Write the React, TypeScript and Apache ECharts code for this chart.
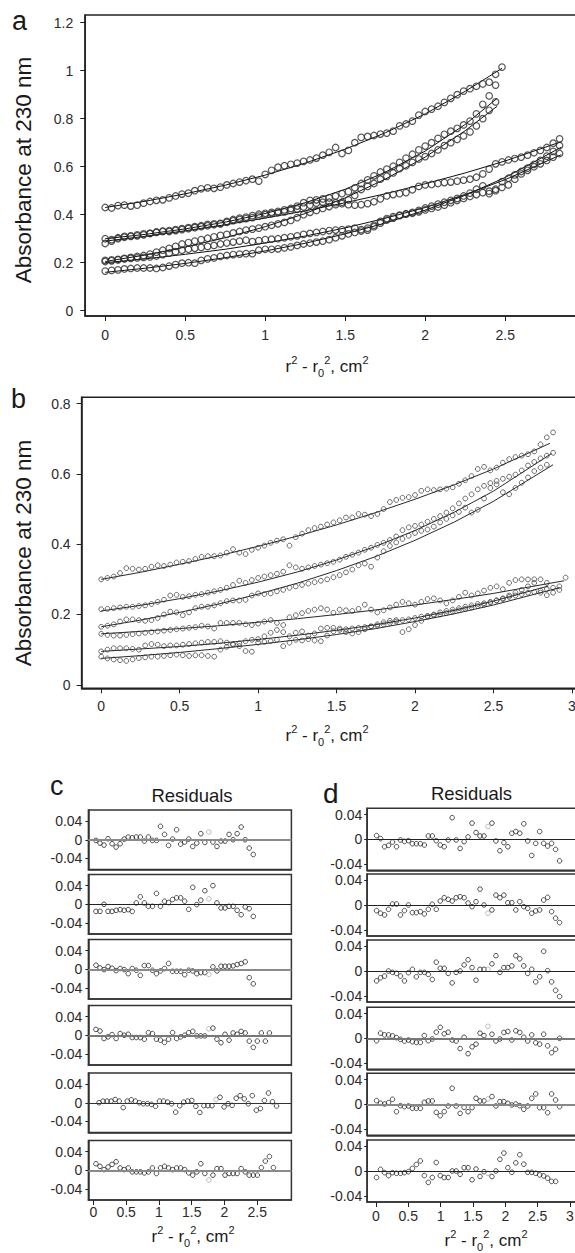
import React, { useEffect, useRef } from "react";
import * as echarts from "echarts";

const FONT = '"Liberation Sans", Arial, Helvetica, sans-serif';

// ---------- Panel a : absorbance (x1000), sampled every 0.04 cm² from 0 ----------
const A_STEP = 0.04;
const a1 = [430,428,438,440,436,440,448,455,460,462,470,478,486,490,500,508,512,510,515,524,530,536,542,548,540,568,585,598,604,610,615,622,628,636,648,660,680,655,668,700,722,726,730,736,740,748,770,778,790,815,830,840,852,868,885,900,915,925,935,945,952,985,1015];
const a2 = [300,296,304,310,312,316,320,322,328,332,334,338,342,346,350,354,360,362,364,372,380,386,390,396,402,406,410,414,420,426,436,450,460,462,466,470,478,488,496,512,530,545,562,578,590,602,618,636,652,670,686,700,718,735,748,760,774,790,820,860,895,940];
const a3 = [210,212,214,218,222,226,230,236,244,252,260,268,278,284,290,296,302,308,314,318,324,330,336,340,344,350,356,362,368,376,388,400,410,418,426,434,442,452,462,480,505,518,530,548,560,574,592,604,618,632,642,655,670,688,700,714,728,745,770,800,835,870];
const a4 = [280,290,300,306,310,312,316,322,326,330,330,334,338,342,346,350,354,358,362,368,375,380,384,388,394,400,404,408,412,418,424,432,440,448,452,452,450,446,442,440,442,446,454,466,478,484,488,492,504,518,524,526,530,534,536,540,544,548,556,570,590,612,620,628,634,640,648,658,668,680,698,716];
const a5 = [205,208,212,216,218,220,222,224,228,234,240,246,252,256,260,264,268,272,278,282,286,290,294,288,292,296,298,300,304,308,312,318,322,326,330,334,336,338,340,344,338,336,350,365,378,386,396,402,406,412,420,426,432,440,450,460,468,476,484,492,498,506,514,524,548,570,585,600,612,626,640,655];
const a6 = [165,168,170,174,176,178,178,178,176,180,186,192,198,200,198,210,216,220,226,230,234,236,238,238,252,256,256,258,262,266,272,278,282,286,290,296,304,312,320,326,332,344,356,372,384,392,398,404,410,418,428,436,444,452,460,468,478,490,506,520,488,500,538,552,566,580,594,610,626,644,664,688];
// fitted curves (x, absorbance)
const aFit1 = [[0,0.43],[0.25,0.456],[0.5,0.487],[0.75,0.523],[1,0.565],[1.25,0.615],[1.5,0.673],[1.75,0.741],[2,0.82],[2.25,0.914],[2.48,1.01]];
const aFit2 = [[0,0.3],[0.25,0.318],[0.5,0.341],[0.75,0.369],[1,0.405],[1.25,0.45],[1.5,0.506],[1.75,0.577],[2,0.665],[2.25,0.776],[2.45,0.885]];
const aFit3 = [[0,0.205],[0.25,0.232],[0.5,0.265],[0.75,0.304],[1,0.35],[1.25,0.405],[1.5,0.47],[1.75,0.548],[2,0.64],[2.25,0.75],[2.45,0.852]];
const aFit4 = [[0,0.29],[0.25,0.31],[0.5,0.333],[0.75,0.358],[1,0.386],[1.25,0.416],[1.5,0.45],[1.75,0.487],[2,0.529],[2.25,0.574],[2.5,0.624],[2.85,0.704]];
const aFit5 = [[0,0.2],[0.25,0.216],[0.5,0.235],[0.75,0.256],[1,0.282],[1.25,0.311],[1.5,0.345],[1.75,0.385],[2,0.43],[2.25,0.484],[2.5,0.546],[2.85,0.65]];
const aFit6 = [[0,0.16],[0.25,0.177],[0.5,0.197],[0.75,0.221],[1,0.249],[1.25,0.281],[1.5,0.32],[1.75,0.365],[2,0.419],[2.25,0.481],[2.5,0.555],[2.85,0.681]];

// ---------- Panel b ----------
const B_STEP = 0.04;
const b1 = [300,304,308,318,332,330,328,330,336,340,338,342,348,350,352,358,364,366,366,368,376,386,376,372,384,390,396,404,410,414,396,420,430,440,446,450,456,462,468,476,476,486,484,480,486,500,520,526,532,534,540,552,556,554,556,558,562,572,582,594,614,620,610,618,632,642,648,652,656,664,684,704,718];
const b2 = [215,216,218,220,222,222,224,226,230,236,242,254,256,250,252,256,258,262,266,270,276,284,296,290,298,304,308,312,316,322,340,334,330,334,338,342,346,350,356,364,370,376,384,390,398,404,412,422,440,448,452,456,464,472,480,490,502,516,530,542,556,566,574,580,586,592,598,610,624,634,644,652,660];
const b3 = [165,168,172,180,186,186,184,182,184,190,200,208,206,198,206,218,222,222,226,232,238,240,240,242,254,260,258,260,266,270,276,280,284,288,292,296,300,306,312,320,328,340,345,336,362,380,395,405,415,424,432,438,442,450,462,472,482,492,504,490,498,530,560,570,548,542,560,575,590,608,618,626];
const b4 = [145,142,140,140,142,144,146,148,150,152,154,156,158,160,162,164,168,166,160,176,176,176,176,172,170,174,180,184,176,170,192,198,204,210,214,218,214,205,214,212,210,216,228,214,206,212,220,228,236,232,228,236,244,246,240,232,240,250,262,254,260,268,276,280,272,290,298,300,300,300,262,255,262,270,305];
const b5 = [95,100,104,104,104,102,100,112,116,114,110,112,112,114,116,118,120,122,122,124,120,116,110,96,94,120,122,124,128,110,120,148,152,140,146,160,162,162,160,158,160,162,164,166,168,172,176,180,184,186,190,194,196,198,200,204,208,212,216,220,224,228,234,240,246,254,262,270,280,290,300,290];
const b6 = [80,75,72,70,68,72,76,78,80,80,82,84,86,84,82,84,84,82,80,100,108,114,118,124,128,130,138,148,156,150,138,128,126,130,126,124,140,152,156,150,146,150,158,166,172,178,182,184,150,158,170,182,194,200,206,210,214,218,222,226,230,232,236,240,244,250,254,258,262,264,268,272,276,280];
const bFit1 = [[0,0.3],[0.25,0.32],[0.5,0.343],[0.75,0.367],[1,0.394],[1.25,0.423],[1.5,0.455],[1.75,0.49],[2,0.528],[2.25,0.569],[2.5,0.614],[2.86,0.687]];
const bFit2 = [[0,0.21],[0.25,0.226],[0.5,0.245],[0.75,0.267],[1,0.292],[1.25,0.321],[1.5,0.355],[1.75,0.394],[2,0.439],[2.25,0.491],[2.5,0.551],[2.87,0.658]];
const bFit3 = [[0,0.165],[0.25,0.184],[0.5,0.206],[0.75,0.23],[1,0.258],[1.25,0.289],[1.5,0.325],[1.75,0.365],[2,0.411],[2.25,0.463],[2.5,0.522],[2.88,0.626]];
const bFit4 = [[0,0.145],[0.25,0.152],[0.5,0.16],[0.75,0.168],[1,0.178],[1.25,0.188],[1.5,0.2],[1.75,0.213],[2,0.227],[2.25,0.243],[2.5,0.26],[2.95,0.296]];
const bFit5 = [[0,0.095],[0.25,0.102],[0.5,0.109],[0.75,0.118],[1,0.129],[1.25,0.141],[1.5,0.155],[1.75,0.171],[2,0.19],[2.25,0.212],[2.5,0.238],[2.85,0.281]];
const bFit6 = [[0,0.075],[0.25,0.083],[0.5,0.092],[0.75,0.103],[1,0.115],[1.25,0.128],[1.5,0.143],[1.75,0.16],[2,0.18],[2.25,0.202],[2.5,0.227],[2.92,0.276]];

// ---------- Residuals (c and d) ----------
const R_STEP = 0.0615;
const cStart = [0.04, 0.04, 0.04, 0.04, 0.087, 0.04];
const cGray = [28, 28, 28, 28, 29, 28];
const c1 = [-0.0014,-0.0072,-0.0115,0.0022,-0.0086,-0.0158,-0.0086,0.0014,0.0058,0.0043,0.0058,0.0058,-0.0029,0.0058,-0.0014,-0.0014,0.0288,0.0115,-0.0122,0.0014,0.0216,-0.0094,-0.005,0.0014,-0.0144,-0.0072,0.013,-0.0058,0.0166,-0.005,-0.0144,-0.0029,-0.0029,0.0115,0,0.013,0.0274,0,-0.018,-0.0317];
const c2 = [-0.0153,-0.0153,0,-0.0153,-0.0153,-0.0131,-0.0116,-0.0131,-0.0116,-0.0153,0.0029,0.016,0.0029,-0.0044,-0.0044,0.0233,-0.0044,0.0065,0.0036,0.0102,0.0138,0.0138,0.0065,-0.0109,0.0364,-0.0007,0.0087,0.0291,0.0116,0.04,0.0029,-0.008,-0.008,-0.0044,-0.0044,-0.0131,-0.0225,-0.0058,-0.0095,-0.0262];
const c3 = [0.0087,0.0029,-0.0007,0.0058,0.0022,-0.0029,0.0015,-0.0007,-0.0095,0.0015,-0.0022,-0.0131,0.008,0.008,-0.0022,-0.0095,-0.0036,0.0015,0.0124,-0.0044,-0.0044,-0.0044,-0.0116,-0.0022,-0.0036,-0.0095,-0.0073,-0.0073,-0.0109,0.0051,-0.0036,0.0065,0.0065,0.0065,0.0073,0.0102,0.0124,0.016,-0.0182,-0.0313];
const c4 = [0.0126,0.0091,-0.007,-0.0035,0.0014,-0.007,0.0035,0,0.0021,-0.0049,-0.0049,-0.0049,-0.0084,0.0056,0.0035,-0.0084,-0.0105,-0.0154,-0.0084,0.0056,-0.007,-0.0035,0,0.0056,0.0084,-0.0014,-0.0014,-0.0014,0.014,0.0154,-0.0084,-0.0161,0.0021,-0.0105,0.0049,0.0021,0.0084,0.0049,-0.0126,-0.026,-0.0126,0.0049,-0.0126,0.0049];
const c5 = [0,0.0035,0.0035,0.0035,0.007,0.0035,-0.0104,0.0035,0.0063,0.0035,0,-0.0021,-0.0021,-0.0035,-0.0077,0.0035,0.0035,0.0014,-0.0021,-0.0202,-0.0063,0.0014,0.0035,0.0049,-0.0077,-0.0209,-0.0063,-0.0063,-0.0063,0.007,0.0118,-0.009,-0.0021,-0.0056,0.0097,0.0153,0.0084,-0.0021,0.0153,-0.016,-0.0125,0.0049,0.0209,0.0021,-0.007];
const c6 = [0.014,0.0084,0.0014,0.007,0.0126,0.0183,0.0049,0.0014,0.0049,-0.0035,-0.0035,-0.0035,-0.0056,-0.0035,0.0049,-0.007,0.0049,0.0084,0.0049,0.0014,0.0049,0.0049,0.0014,-0.0056,-0.0105,-0.0035,0.014,-0.007,-0.0211,-0.0105,0.0035,0.0035,-0.0105,-0.007,-0.007,-0.007,0.0035,-0.0035,-0.0105,-0.0105,-0.0105,0.0056,0.0197,0.0295,0.0056];
const dStart = [0.01, 0.01, 0.01, 0.01, 0.01, 0.01];
const dGray = [28, 28, 28, 28, 28, 28];
const d1 = [0.006,0.0011,-0.012,-0.0098,-0.0044,-0.012,-0.0011,-0.0033,-0.0022,-0.0071,-0.0071,-0.0071,-0.0092,0.0054,0.0054,-0.0022,-0.0092,-0.012,-0.0011,0.0348,-0.0011,-0.0147,-0.0038,0.0038,0.0261,0.0109,0.0054,0.0054,0.0207,0.0261,-0.0027,-0.0185,-0.0054,-0.012,0.0098,0.0125,0.0098,0.025,-0.0027,-0.0261,-0.0065,0.0125,-0.0065,-0.0109,-0.0065,-0.0163,-0.0348];
const d2 = [-0.0091,-0.0133,-0.016,-0.0069,0.0016,0.0016,-0.016,-0.0091,0,-0.0123,-0.0123,-0.0107,-0.0144,-0.0069,0.0011,-0.0069,0.0064,0.0117,0.0091,0.0064,0.0117,0.0133,0.0117,0.0032,-0.0027,0.0053,0.0256,0,-0.0133,-0.008,0.016,0.0117,0.016,0.0037,0.0037,-0.008,0.0053,-0.0027,-0.0053,-0.0133,-0.0096,-0.008,0.008,0.0123,-0.0107,-0.0213,-0.0283];
const d3 = [-0.0159,-0.011,-0.0082,0,-0.0022,-0.0038,-0.0082,-0.0159,-0.0027,0.0027,-0.0093,-0.0022,-0.0022,-0.0055,-0.0137,0.0142,0.0044,0.0044,-0.0038,-0.0192,-0.0022,0,0.0099,0.0181,0.0055,-0.0148,0.0027,0.0027,0.0027,0.0115,0.0247,-0.0022,0.0055,0.0055,0.0082,0.0247,0.0197,0.0082,-0.0038,0.0027,-0.0175,-0.0093,0.0318,0.0005,-0.0175,-0.0312,-0.0411];
const d4 = [-0.0039,0.0083,0.0055,0.0055,0.0039,0.0011,-0.0017,-0.0044,-0.0028,-0.0055,-0.0066,-0.0066,0.0044,-0.0039,-0.0011,0.0099,0.0177,0.0072,0.0099,-0.0028,-0.0044,-0.0166,0.0017,-0.0248,-0.0138,-0.0094,0.0083,0.0044,0.0193,0.0066,-0.0044,-0.0011,0.0094,0.011,-0.0028,0.0121,0.0094,0.0017,-0.0044,0.0055,-0.0072,-0.0094,0.0066,-0.0121,-0.0232,-0.0177,0];
const d5 = [0.0059,0.0016,0.0005,0.0027,0.0081,-0.0119,-0.0022,-0.0038,-0.0027,-0.0065,-0.0065,-0.0065,0.0032,0.0054,0.0054,-0.013,-0.0184,-0.0119,-0.0027,0.0259,-0.0027,-0.0146,-0.0049,-0.0119,-0.0054,0.0097,0.0054,0.0054,0.0086,0.0124,-0.0027,0.0043,0.0043,0.0016,-0.0011,0.0005,-0.0022,-0.0081,-0.0027,0.0097,0.0167,-0.0054,-0.0054,-0.0135,0.0167,0.007,-0.0038];
const d6 = [-0.0105,0.0026,-0.0026,-0.0074,-0.0026,-0.0037,-0.0037,-0.0026,-0.0011,0.0042,0.0105,0.0163,-0.0074,-0.0184,-0.0105,0.0137,-0.0074,-0.0105,-0.0105,0,0,-0.0053,0.0053,0.0053,-0.0142,0.0032,-0.0089,-0.0011,-0.0037,-0.0089,0,0.0189,0.0289,0.0053,-0.0021,0.0132,0.0263,0.011,-0.0021,-0.0021,-0.0037,-0.0063,-0.0079,-0.0116,-0.0168,-0.0168];

// ---------- tick labels ----------
const aXTicks = [0, 0.5, 1, 1.5, 2, 2.5];
const aYTicks = [0, 0.2, 0.4, 0.6, 0.8, 1, 1.2];
const bXTicks = [0, 0.5, 1, 1.5, 2, 2.5, 3];
const bYTicks = [0, 0.2, 0.4, 0.6, 0.8];
const cXTicks = [0, 0.5, 1, 1.5, 2, 2.5];
const dXTicks = [0, 0.5, 1, 1.5, 2, 2.5, 3];
const rYTicks = [-0.04, 0, 0.04];

const cZeroColor = ["#8a8a8a", "#222", "#8a8a8a", "#777", "#333", "#8a8a8a"];
const dZeroColor = ["#222", "#222", "#222", "#777", "#888", "#222"];

function buildOption() {
  const grids: any[] = [];
  const xAxes: any[] = [];
  const yAxes: any[] = [];
  const series: any[] = [];
  const lineCol = "#222";
  const labCol = "#2b2b2b";

  const addPanel = (g: any, x: any, y: any) => {
    const idx = grids.length;
    grids.push({
      left: g.left, top: g.top, width: g.width, height: g.height,
      show: true, borderColor: g.border || lineCol, borderWidth: g.bw || 1.5,
      containLabel: false, outerBoundsMode: "none",
    });
    xAxes.push({
      type: "value", gridIndex: idx, min: x.min, max: x.max,
      axisLine: { show: true, onZero: false, lineStyle: { color: g.border || lineCol, width: g.bw || 1.5 } },
      axisTick: { show: !!x.ticks, length: 5, customValues: x.ticks || [], lineStyle: { color: lineCol, width: 1 } },
      axisLabel: { show: !!x.ticks, customValues: x.ticks || [], fontSize: x.fs || 14, color: labCol, fontFamily: FONT, margin: x.margin },
      splitLine: { show: false },
    });
    yAxes.push({
      type: "value", gridIndex: idx, min: y.min, max: y.max,
      axisLine: { show: true, onZero: false, lineStyle: { color: g.border || lineCol, width: g.bw || 1.5 } },
      axisTick: { show: true, length: y.tl || 5, customValues: y.ticks, lineStyle: { color: lineCol, width: 1 } },
      axisLabel: { customValues: y.ticks, fontSize: y.fs || 14, color: labCol, fontFamily: FONT, margin: y.margin },
      splitLine: { show: false },
    });
    return idx;
  };

  const fitLine = (idx: number, f: number[][], w: number) => ({
    type: "line", xAxisIndex: idx, yAxisIndex: idx, data: f, smooth: false,
    symbol: "none", lineStyle: { color: "#111", width: w }, z: 2,
  });

  // panel a
  const ia = addPanel(
    { left: 85.2, top: 15, width: 516, height: 301 },
    { min: -0.125, max: 3.1, ticks: aXTicks, margin: 12 },
    { min: -0.022, max: 1.232, ticks: aYTicks, margin: 12 }
  );
  [aFit1, aFit2, aFit3, aFit4, aFit5, aFit6].forEach((f) => series.push(fitLine(ia, f, 1)));
  [a1, a2, a3, a4, a5, a6].forEach((arr) =>
    series.push({
      type: "scatter", xAxisIndex: ia, yAxisIndex: ia, symbol: "circle", symbolSize: 6.5,
      data: arr.map((v, i) => [i * A_STEP, v / 1000]),
      itemStyle: { color: "rgba(255,255,255,0)", borderColor: "#2a2a2a", borderWidth: 1.2 }, z: 3,
    })
  );

  // panel b
  const ib = addPanel(
    { left: 81.6, top: 397.3, width: 506, height: 291 },
    { min: -0.125, max: 3.1, ticks: bXTicks, margin: 11 },
    { min: -0.01, max: 0.818, ticks: bYTicks, margin: 11 }
  );
  [bFit1, bFit2, bFit3, bFit4, bFit5, bFit6].forEach((f) => series.push(fitLine(ib, f, 0.9)));
  [b1, b2, b3, b4, b5, b6].forEach((arr) =>
    series.push({
      type: "scatter", xAxisIndex: ib, yAxisIndex: ib, symbol: "circle", symbolSize: 4.8,
      data: arr.map((v, i) => [i * B_STEP, v / 1000]),
      itemStyle: { color: "rgba(255,255,255,0)", borderColor: "#333", borderWidth: 0.9 }, z: 3,
    })
  );

  // residual panels
  const cRows = [c1, c2, c3, c4, c5, c6];
  const dRows = [d1, d2, d3, d4, d5, d6];
  const cTops = [810, 874.5, 939.5, 1005.5, 1073, 1140.5];
  const dTops = [808.3, 874, 940, 1007.3, 1073.3, 1140];

  const addResidual = (rows: number[][], tops: number[], starts: number[], gray: number[], zc: string[], panel: "c" | "d") => {
    rows.forEach((row, r) => {
      const last = r === rows.length - 1;
      const idx = panel === "c"
        ? addPanel(
            { left: 88.4, top: tops[r], width: 203, height: 59.5, border: "#333" },
            { min: -0.075, max: 3.02, ticks: last ? cXTicks : null, margin: 5 },
            { min: -0.064, max: 0.064, ticks: rYTicks, margin: 6, tl: 3 }
          )
        : addPanel(
            { left: 367.2, top: tops[r], width: 222.2, height: 62, border: "#333" },
            { min: -0.135, max: 3.3, ticks: last ? dXTicks : null, margin: 7 },
            { min: -0.05, max: 0.05, ticks: rYTicks, margin: 5, tl: 3 }
          );
      series.push({
        type: "scatter", xAxisIndex: idx, yAxisIndex: idx, symbol: "circle", symbolSize: 4.6,
        data: row.map((v, i) => {
          const item: any = { value: [starts[r] + i * R_STEP, v] };
          if (i === gray[r]) item.itemStyle = { borderColor: "#aaa" };
          return item;
        }),
        itemStyle: { color: "rgba(255,255,255,0)", borderColor: "#222", borderWidth: 1 },
        markLine: {
          silent: true, symbol: ["none", "none"], label: { show: false },
          lineStyle: { color: zc[r], width: zc[r] === "#222" || zc[r] === "#333" ? 1 : 1.8, type: "solid" },
          data: [{ yAxis: 0 }],
        },
        z: 3,
      });
    });
  };
  addResidual(cRows, cTops, cStart, cGray, cZeroColor, "c");
  addResidual(dRows, dTops, dStart, dGray, dZeroColor, "d");

  const sub = (fs: number) => ({
    n: { fontSize: fs, fontFamily: FONT, fill: "#1a1a1a", lineHeight: 24, verticalAlign: "middle" },
    sp: { fontSize: Math.round(fs * 0.62), fontFamily: FONT, fill: "#1a1a1a", lineHeight: 12, verticalAlign: "top" },
    sb: { fontSize: Math.round(fs * 0.62), fontFamily: FONT, fill: "#1a1a1a", lineHeight: 10, verticalAlign: "bottom" },
  });
  const xTitle = "{n|r}{sp|2}{n| - r}{sb|0}{sp|2}{n|, cm}{sp|2}";

  const txt = (x: number, y: number, text: string, fs: number, extra: any = {}) => ({
    type: "text", x, y, silent: true,
    rotation: extra.rotation || 0,
    style: {
      text, fontSize: fs, fontFamily: FONT, fill: "#1a1a1a",
      align: extra.align || "left", textAlign: extra.align || "left",
      verticalAlign: "middle", textVerticalAlign: "middle",
      ...(extra.rich ? { rich: extra.rich } : {}),
    },
  });

  const graphic = [
    txt(12, 21, "a", 27),
    txt(11, 399, "b", 27),
    txt(50, 786, "c", 27),
    txt(323, 793.5, "d", 28),
    txt(192, 795.5, "Residuals", 18.5, { align: "center" }),
    txt(471.5, 793.5, "Residuals", 18.5, { align: "center" }),
    txt(23, 170, "Absorbance at 230 nm", 22.5, { align: "center", rotation: Math.PI / 2 }),
    txt(23, 553, "Absorbance at 230 nm", 22.5, { align: "center", rotation: Math.PI / 2 }),
    txt(327, 366, xTitle, 17, { align: "center", rich: sub(17) }),
    txt(327, 735, xTitle, 17, { align: "center", rich: sub(17) }),
    txt(193, 1236, xTitle, 17, { align: "center", rich: sub(17) }),
    txt(486, 1240, xTitle, 17, { align: "center", rich: sub(17) }),
  ];

  return {
    animation: false,
    backgroundColor: "#ffffff",
    grid: grids,
    xAxis: xAxes,
    yAxis: yAxes,
    series,
    graphic: { elements: graphic },
  };
}

export default function App() {
  const ref = useRef<HTMLDivElement>(null);
  useEffect(() => {
    if (!ref.current) return;
    const chart = echarts.init(ref.current, undefined, { renderer: "svg" });
    chart.setOption(buildOption() as any);
    return () => chart.dispose();
  }, []);
  return (
    <div style={{ position: "absolute", left: 0, top: 0, width: 575, height: 1253, overflow: "hidden", background: "#fff" }}>
      <div ref={ref} style={{ width: 600, height: 1253 }} />
    </div>
  );
}
